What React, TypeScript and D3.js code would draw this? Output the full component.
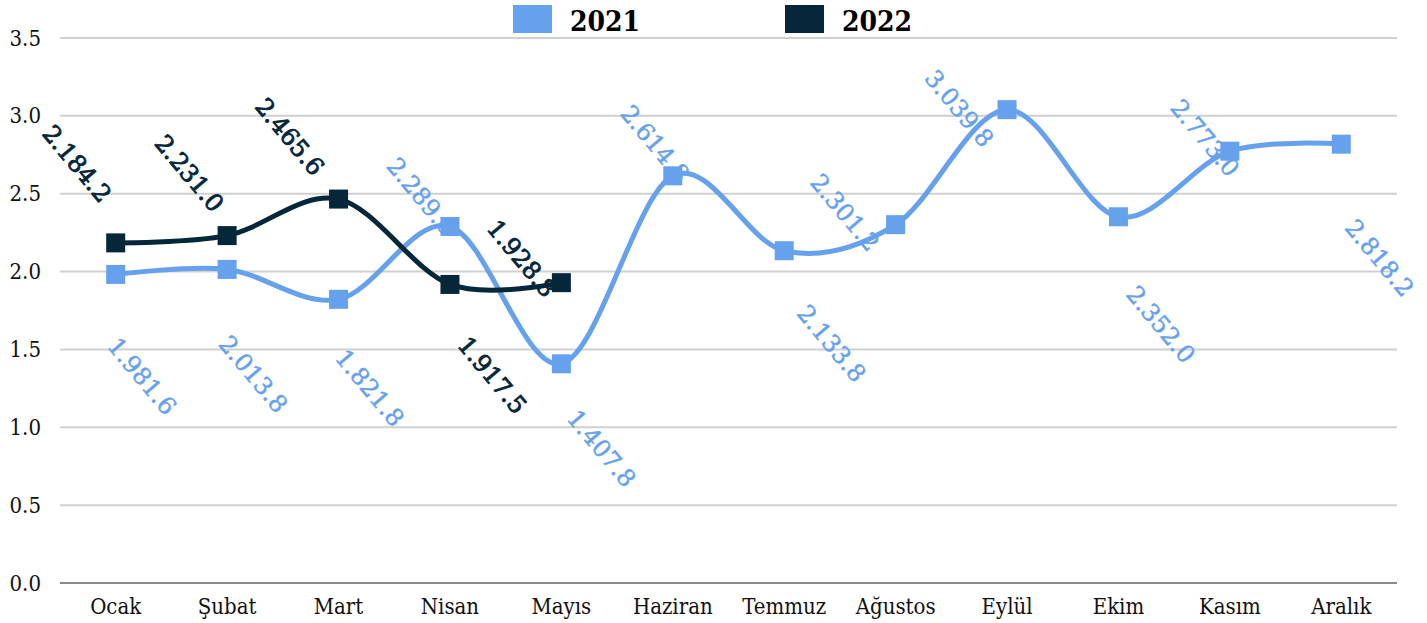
import { scaleBand, scaleLinear, line, curveCardinal, formatLocale, format } from "d3";

// Months (Turkish)
const months = ["Ocak", "Şubat", "Mart", "Nisan", "Mayıs", "Haziran", "Temmuz", "Ağustos", "Eylül", "Ekim", "Kasım", "Aralık"];

// Values
const values2021 = [1981.6, 2013.8, 1821.8, 2289.6, 1407.8, 2614.8, 2133.8, 2301.2, 3039.8, 2352.0, 2773.0, 2818.2];
const values2022 = [2184.2, 2231.0, 2465.6, 1917.5, 1928.8];

const yTicks = [0, 0.5, 1.0, 1.5, 2.0, 2.5, 3.0, 3.5];

// Label placement (offset of label centre from point)
const labelOffsets2021 = [[26, 102], [26, 105], [31, 89], [-29, -30], [40, 85], [-18, -32], [47, 93], [-51, -12], [-48, -1], [42, 108], [-25, -13], [38, 114]];
const labelOffsets2022 = [[-39, -79], [-38, -62], [-49, -62], [42, 91], [-40, -24]];

const BLUE = "#66a1ee";
const NAVY = "#06263a";
const W = 1427;
const H = 623;

const trLocale = formatLocale({ decimal: ".", thousands: ".", grouping: [3], currency: ["", ""] });
const labelFmt = trLocale.format(",.1f");
const tickFmt = format(".1f");

const axisFont = "'DejaVu Serif Condensed', 'DejaVu Serif', serif";

export default function App() {
    const x = scaleBand<string>().domain(months).range([60, 1397]);
    const y = scaleLinear().domain([0, 3.5]).range([583, 38]);
    const cx = (i: number) => (x(months[i]) ?? 0) + x.bandwidth() / 2;

    const path = line<number>()
        .x((_, i) => cx(i))
        .y((d) => y(d / 1000))
        .curve(curveCardinal.tension(0));

    const series = [
        { name: "2021", data: values2021, color: BLUE, offsets: labelOffsets2021 },
        { name: "2022", data: values2022, color: NAVY, offsets: labelOffsets2022 },
    ];

    const m = 19;

    return (
        <svg width={W} height={H} style={{ position: "absolute", left: 0, top: 0, background: "#fff" }}>
            {/* gridlines */}
            {yTicks.map((t) => (
                <line key={t} x1={60} x2={1397} y1={y(t)} y2={y(t)}
                    stroke={t === 0 ? "#8a8a8a" : "#d0d0d0"} strokeWidth={2} />
            ))}
            {/* y tick labels */}
            {yTicks.map((t) => (
                <text key={"t" + t} x={41} y={y(t)} textAnchor="end" dominantBaseline="central"
                    fontFamily={axisFont} fontStretch="condensed" fontSize={22} fill="#111">
                    {tickFmt(t)}
                </text>
            ))}
            {/* x labels */}
            {months.map((mo, i) => (
                <text key={mo} x={cx(i)} y={614} textAnchor="middle"
                    fontFamily={axisFont} fontStretch="condensed" fontSize={22} fill="#111">
                    {mo}
                </text>
            ))}

            {/* data labels */}
            {series.map((s) =>
                s.data.map((v, i) => {
                    const lx = cx(i) + s.offsets[i][0];
                    const ly = y(v / 1000) + s.offsets[i][1];
                    return (
                        <text key={s.name + i} x={lx} y={ly} textAnchor="middle" dominantBaseline="central"
                            transform={`rotate(50, ${lx}, ${ly})`}
                            fontFamily="'DejaVu Serif', serif" fontSize={24} fill={s.color}
                            stroke={s.color} strokeWidth={s.name === "2022" ? 0.9 : 0.5}>
                            {labelFmt(v)}
                        </text>
                    );
                })
            )}

            {/* lines */}
            {series.map((s) => (
                <path key={"l" + s.name} d={path(s.data) ?? ""} fill="none" stroke={s.color} strokeWidth={5} />
            ))}
            {/* markers */}
            {series.map((s) =>
                s.data.map((v, i) => (
                    <rect key={"m" + s.name + i} x={cx(i) - m / 2} y={y(v / 1000) - m / 2} width={m} height={m} fill={s.color} />
                ))
            )}

            {/* legend */}
            {series.map((s, k) => {
                const lx = 513 + k * 272;
                return (
                    <g key={"lg" + s.name}>
                        <rect x={lx} y={5} width={39} height={28} fill={s.color} />
                        <text x={lx + 57} y={31} fontFamily={axisFont} fontStretch="condensed" fontWeight="bold"
                            fontSize={28} fill="#000">
                            {s.name}
                        </text>
                    </g>
                );
            })}
        </svg>
    );
}
